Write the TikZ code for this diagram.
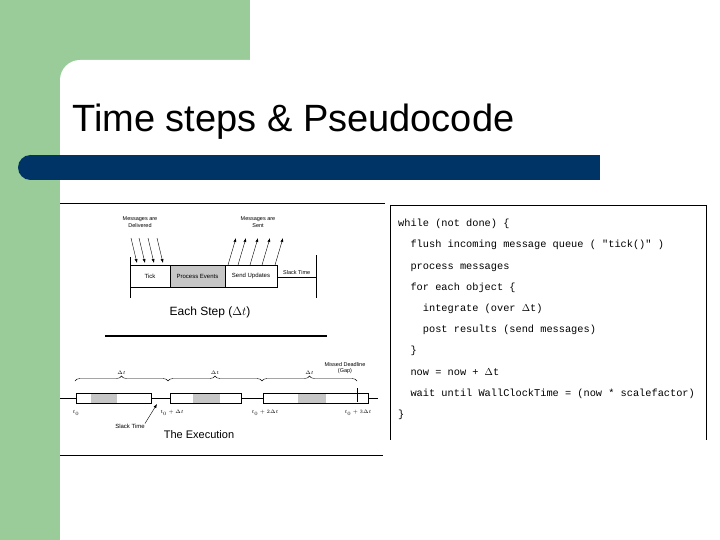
\documentclass[tikz,border=0pt]{standalone}
\usepackage{fontspec}
\setmainfont{Liberation Sans}
\setmonofont{Liberation Mono}
\usetikzlibrary{decorations.pathreplacing,arrows.meta}
\definecolor{gr}{RGB}{153,204,153}
\definecolor{nb}{RGB}{0,51,102}
\begin{document}
\begin{tikzpicture}[x=1pt,y=-1pt,
  lbl/.style={font=\fontsize{5.5}{6.5}\selectfont, align=center, inner sep=0pt},
  bx/.style={draw, thick, minimum height=22pt, inner sep=0pt, font=\fontsize{6}{7}\selectfont},
  bar/.style={draw, minimum height=10pt, inner sep=0pt},
  code/.style={font=\ttfamily\fontsize{10.3}{21.2}\selectfont, align=left, anchor=north west, inner sep=0pt}]
\useasboundingbox (0,0) rectangle (720,540);
\fill[white] (0,0) rectangle (720,540);
\fill[gr] (0,0) rectangle (250,90);
\fill[gr] (0,0) rectangle (60,540);
\fill[white] (60,80) arc[start angle=180,end angle=270,radius=20] -- (250,60) -- (720,60) -- (720,540) -- (60,540) -- cycle;
\fill[nb] (30,155) rectangle (600,180);
\fill[nb] (30.5,167.5) circle[radius=12.5];
\node[anchor=west, font=\fontsize{38}{44}\selectfont, inner sep=0pt] (title) at (72,122) {Time steps \& Pseudocode};
% left figure frame
\draw[thick] (60,203) -- (385,203);
\draw[thick] (60,455) -- (383,455);
% top diagram
\node[bx, minimum width=40pt] (tick) at (150,276) {Tick};
\node[bx, minimum width=55pt, fill=gray!45] (proc) at (197.5,276) {Process Events};
\node[bx, minimum width=52pt] (send) at (251,276) {Send Updates};
\coordinate (slE) at (316,277);
\draw (send.east |- slE) -- (slE) node[lbl, pos=0.5, above=2pt] (slk) {Slack Time};
\draw (130,257) -- (130,298);
\draw (316,255) -- (316,298);
\node[lbl] (del) at (140,222) {Messages are\\Delivered};
\node[lbl] (sent) at (258,222) {Messages are\\Sent};
\foreach \x in {137,145,154,163}{ \draw[-{Latex[length=4pt]}] (\x-6,238) -- (\x,263); }
\foreach \x in {228,238,250,262,275}{ \draw[-{Latex[length=4pt]}] (\x,265) -- (\x+8,238); }
\node[font=\fontsize{12}{14}\selectfont] (each) at (210,312) {Each Step ($\Delta t$)};
\draw[very thick] (105,336) -- (327,336);
% execution
\draw (60,398) -- (378,398);
\node[bar, minimum width=75pt, fill=white] (b1) at (113.5,398) {};
\fill[gray!45] (91,393.5) rectangle (117,402.5);
\node[bar, minimum width=71pt, fill=white] (b2) at (205.5,398) {};
\fill[gray!45] (193,393.5) rectangle (220,402.5);
\node[bar, minimum width=105pt, fill=white] (b3) at (315.5,398) {};
\fill[gray!45] (298,393.5) rectangle (326,402.5);
\draw (b1.north west) rectangle (b1.south east);
\draw (b2.north west) rectangle (b2.south east);
\draw (b3.north west) rectangle (b3.south east);
\draw[decorate, decoration={brace, amplitude=5pt}] (75,381) -- (168,381) node[lbl, midway, above=6pt] {$\Delta t$};
\draw[decorate, decoration={brace, amplitude=5pt}] (168,381) -- (262,381) node[lbl, midway, above=6pt] {$\Delta t$};
\draw[decorate, decoration={brace, amplitude=5pt}] (262,381) -- (357,381) node[lbl, midway, above=6pt] {$\Delta t$};
\draw (357,388) -- (357,402);
\node[lbl] (miss) at (345,368) {Missed Deadline\\(Gap)};
\node[lbl] (t0) at (76,413) {$t_0$};
\node[lbl] (t1) at (172,413) {$t_0+\Delta t$};
\node[lbl] (t2) at (265,413) {$t_0+2\Delta t$};
\node[lbl] (t3) at (358,413) {$t_0+3\Delta t$};
\node[lbl, font=\fontsize{6}{7}\selectfont] (slack) at (130,426) {Slack Time};
\draw[-{Latex[length=4pt]}] (slack.north east) -- (157,404);
\node[font=\fontsize{11}{13}\selectfont] (exe) at (199,435) {The Execution};
% code box
\draw[thick] (390,205) -- (706,205);
\draw (390,205) -- (390,440);
\draw (706,205) -- (706,440);
\node[code] (pc) at (398,219) {while (not done) \{\\
\ \ flush incoming message queue ( "tick()" )\\
\ \ process messages\\
\ \ for each object \{\\
\ \ \ \ integrate (over $\Delta$t)\\
\ \ \ \ post results (send messages)\\
\ \ \}\\
\ \ now = now + $\Delta$t\\
\ \ wait until WallClockTime = (now * scalefactor)\\
\}};
\end{tikzpicture}
\end{document}
